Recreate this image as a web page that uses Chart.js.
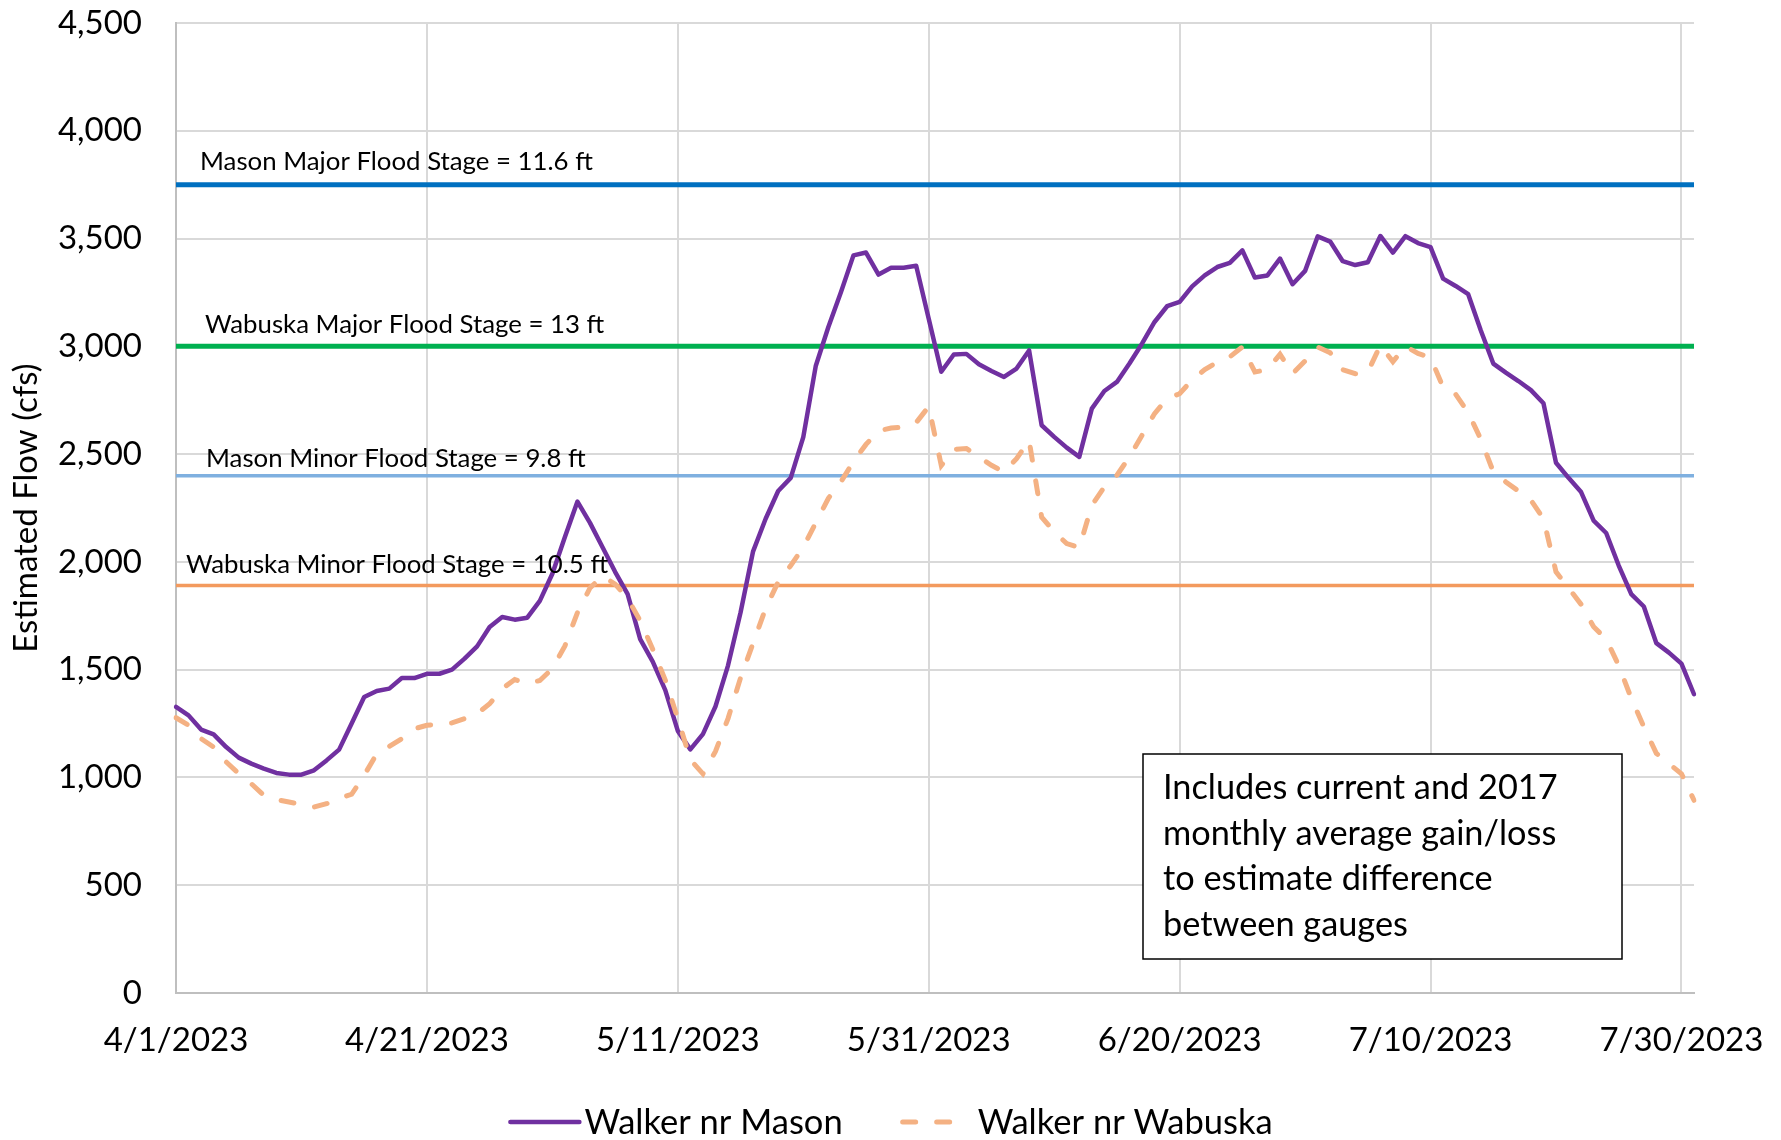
<!DOCTYPE html>
<html>
<head>
<meta charset="utf-8">
<script src="https://cdn.jsdelivr.net/npm/chart.js@4.4.1/dist/chart.umd.min.js"></script>
<style>
  html, body { margin: 0; padding: 0; background: #fff; }
  #wrap { width: 1781px; height: 1140px; position: relative; }
</style>
</head>
<body>
<div id="wrap"><canvas id="flowchart"></canvas></div>
<script>
// daily estimated flow, 4/1/2023 .. 7/31/2023 (cfs)
const masonFlow = [
  1327, 1288, 1222, 1200, 1141, 1092, 1064, 1041, 1021, 1013,
  1013, 1033, 1079, 1129, 1250, 1373, 1401, 1412, 1461, 1461,
  1481, 1481, 1500, 1551, 1608, 1698, 1744, 1732, 1741, 1819,
  1945, 2115, 2280, 2181, 2068, 1954, 1850, 1642, 1537, 1405,
  1216, 1130, 1201, 1329, 1519, 1765, 2049, 2200, 2329, 2390,
  2579, 2910, 3090, 3251, 3422, 3435, 3333, 3365, 3365, 3374,
  3128, 2882, 2962, 2965, 2917, 2886, 2858, 2897, 2981, 2634,
  2580, 2530, 2487, 2711, 2793, 2835, 2920, 3012, 3113, 3186,
  3206, 3278, 3329, 3368, 3387, 3445, 3319, 3329, 3407, 3288,
  3350, 3510, 3486, 3395, 3377, 3390, 3512, 3435, 3511, 3479,
  3460, 3314, 3280, 3242, 3075, 2920, 2878, 2839, 2797, 2736,
  2460, 2390, 2324, 2191, 2134, 1983, 1850, 1793, 1623, 1579,
  1528, 1386
];
const wabuskaFlow = [
  1277, 1242, 1180, 1141, 1072, 1018, 971, 917, 897, 886,
  874, 863, 878, 902, 922, 1010, 1110, 1144, 1180, 1226,
  1242, 1247, 1253, 1273, 1296, 1342, 1412, 1454, 1435, 1450,
  1505, 1610, 1765, 1879, 1935, 1897, 1831, 1727, 1595, 1452,
  1273, 1083, 1017, 1121, 1273, 1462, 1623, 1784, 1907, 1983,
  2068, 2182, 2295, 2371, 2466, 2545, 2608, 2621, 2625, 2646,
  2721, 2447, 2522, 2526, 2487, 2448, 2417, 2479, 2564, 2208,
  2139, 2085, 2066, 2262, 2348, 2402, 2487, 2587, 2688, 2757,
  2780, 2845, 2892, 2927, 2951, 2997, 2881, 2892, 2963, 2873,
  2932, 2997, 2970, 2892, 2873, 2881, 3005, 2929, 3000, 2967,
  2948, 2810, 2778, 2693, 2570, 2418, 2371, 2329, 2286, 2200,
  1954, 1879, 1803, 1699, 1642, 1519, 1367, 1235, 1112, 1064,
  1017, 894
];

const stageValues = [3750, 3000, 2400, 1890];
const stageLabels = [
  'Mason Major Flood Stage = 11.6 ft',
  'Wabuska Major Flood Stage = 13 ft',
  'Mason Minor Flood Stage = 9.8 ft',
  'Wabuska Minor Flood Stage = 10.5 ft'
];
const noteLines = [
  'Includes current and 2017',
  'monthly average gain/loss',
  'to estimate difference',
  'between gauges'
];

// one label per day starting 4/1/2023
const dateLabels = masonFlow.map((_, i) => {
  const d = new Date(2023, 3, 1 + i);
  return (d.getMonth() + 1) + '/' + d.getDate() + '/' + d.getFullYear();
});

const FONT = 'Lato';
Chart.defaults.font.family = FONT;
Chart.defaults.color = '#000';

const stageColors = ['#0070C0', '#00B050', '#7FB0E0', '#F39A5E'];
const stageWidths = [5, 5, 3.5, 3.5];
const stageLabelDx = [24, 29, 30, 10];
const stageLabelDy = [15, 13, 9, 13];

const floodStages = {
  id: 'floodStages',
  beforeDatasetsDraw(chart) {
    const { ctx, chartArea, scales: { y } } = chart;
    ctx.save();
    stageValues.forEach((v, i) => {
      const py = y.getPixelForValue(v);
      ctx.beginPath();
      ctx.lineWidth = stageWidths[i];
      ctx.strokeStyle = stageColors[i];
      ctx.moveTo(chartArea.left, py);
      ctx.lineTo(chartArea.right, py);
      ctx.stroke();
    });
    ctx.restore();
  },
  afterDatasetsDraw(chart) {
    const { ctx, chartArea, scales: { y } } = chart;
    ctx.save();
    ctx.font = '25.8px ' + FONT;
    ctx.fillStyle = '#000';
    ctx.textBaseline = 'alphabetic';
    stageValues.forEach((v, i) => {
      const py = y.getPixelForValue(v);
      ctx.fillText(stageLabels[i], chartArea.left + stageLabelDx[i], py - stageLabelDy[i]);
    });
    ctx.restore();
  }
};

const noteBox = {
  id: 'noteBox',
  afterDraw(chart) {
    const ctx = chart.ctx;
    const bx = 1143, by = 754, bw = 479, bh = 205;
    ctx.save();
    ctx.fillStyle = '#fff';
    ctx.fillRect(bx, by, bw, bh);
    ctx.strokeStyle = '#000';
    ctx.lineWidth = 1.5;
    ctx.strokeRect(bx, by, bw, bh);
    ctx.font = '34.3px ' + FONT;
    ctx.fillStyle = '#000';
    ctx.textBaseline = 'alphabetic';
    noteLines.forEach((t, i) => ctx.fillText(t, bx + 20, by + 45 + i * 45.5));
    ctx.restore();
  }
};

const bottomLegend = {
  id: 'bottomLegend',
  afterDraw(chart) {
    const ctx = chart.ctx;
    const sets = chart.data.datasets;
    const samples = [71, 60];
    const gaps = [5, 17];
    const spacing = 58;
    ctx.save();
    ctx.font = '34.5px ' + FONT;
    const widths = sets.map((ds, i) => samples[i] + gaps[i] + ctx.measureText(ds.label).width);
    const total = widths.reduce((a, b) => a + b, 0) + spacing * (sets.length - 1);
    let x = chart.width / 2 - total / 2;
    const base = 1134, midY = 1122;
    sets.forEach((ds, i) => {
      ctx.beginPath();
      ctx.strokeStyle = ds.borderColor;
      ctx.lineWidth = ds.borderWidth;
      ctx.setLineDash(ds.borderDash || []);
      ctx.lineCap = ds.borderCapStyle || 'round';
      ctx.moveTo(x + 2, midY);
      ctx.lineTo(x + samples[i], midY);
      ctx.stroke();
      ctx.setLineDash([]);
      ctx.fillStyle = '#000';
      ctx.textBaseline = 'alphabetic';
      ctx.fillText(ds.label, x + samples[i] + gaps[i], base);
      x += widths[i] + spacing;
    });
    ctx.restore();
  }
};

new Chart(document.getElementById('flowchart'), {
  type: 'line',
  data: {
    labels: dateLabels,
    datasets: [
      {
        label:       'Walker nr Mason',
        data:        masonFlow,
        borderColor: '#7030A0',
        borderWidth: 4.5,
        borderJoinStyle: 'round',
        borderCapStyle: 'round',
        pointRadius: 0,
        tension:     0,
        order:       1
      },
      {
        label:       'Walker nr Wabuska',
        data:        wabuskaFlow,
        borderColor: '#F4B183',
        borderWidth: 5,
        borderDash:  [13, 21],
        borderCapStyle: 'round',
        pointRadius: 0,
        tension:     0,
        order:       0
      }
    ]
  },
  options: {
    responsive: true,
    maintainAspectRatio: false,
    animation: false,
    layout: { padding: { top: 23, right: 87, left: 0, bottom: 0 } },
    plugins: {
      legend: { display: false },
      tooltip: { enabled: false }
    },
    scales: {
      x: {
        type: 'category',
        offset: false,
        grid: { color: '#d9d9d9', lineWidth: 2, drawTicks: true, tickLength: 28, tickColor: 'rgba(0,0,0,0)' },
        border: { color: '#bfbfbf', width: 2 },
        ticks: {
          autoSkip: false,
          maxRotation: 0,
          padding: 0,
          font: { size: 33 },
          callback: function(val, idx) {
            return idx % 20 === 0 ? this.getLabelForValue(val) : null;
          }
        },
        afterFit: function(scale) { scale.height = 147; }
      },
      y: {
        min: 0,
        max: 4500,
        grid: { color: '#d9d9d9', lineWidth: 2, drawTicks: true, tickLength: 34, tickColor: 'rgba(0,0,0,0)' },
        border: { color: '#bfbfbf', width: 2 },
        ticks: {
          stepSize: 500,
          padding: 0,
          font: { size: 33 },
          callback: (v) => v.toLocaleString('en-US')
        },
        title: {
          display: true,
          text: 'Estimated Flow (cfs)',
          font: { size: 33 },
          padding: { top: 7, bottom: 0 }
        },
        afterFit: function(scale) { scale.width = 176; }
      }
    }
  },
  plugins: [floodStages, noteBox, bottomLegend]
});
</script>
</body>
</html>
